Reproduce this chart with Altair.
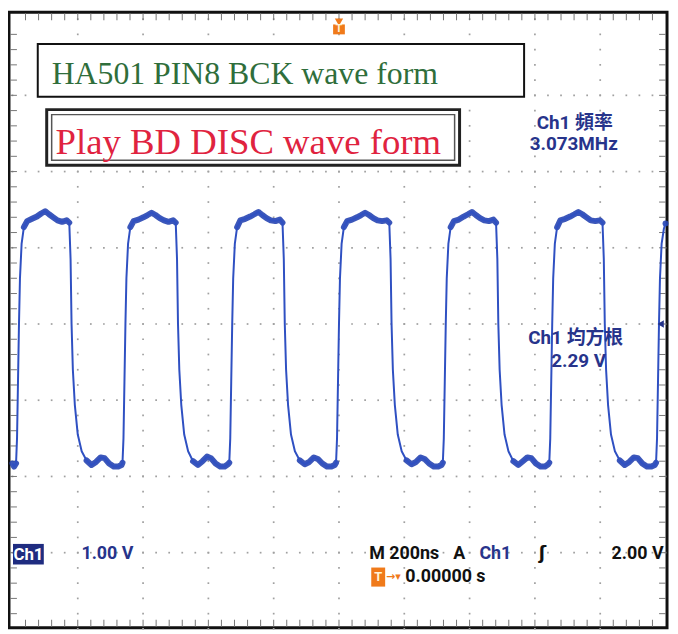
import altair as alt
import pandas as pd

# ---------------- data ----------------
# time in ns (M 200ns/div, trigger at centre = 0), voltage in V (1.00 V/div, ground 2 div below centre)
trace_t = [
    -1000, -995,
    -989, -986, -983, -980, -977, -972, -965, -955,
    -940, -925, -912, -900, -888, -875, -862, -848, -834, -826,
    -822, -819, -815, -809, -800, -788, -773, -758,
    -744, -730, -718, -704, -690, -676, -666,
    -663, -660, -657, -654, -651, -646, -639, -629,
    -614, -599, -586, -574, -562, -549, -536, -522, -508, -500,
    -496, -493, -489, -483, -474, -462, -447, -432,
    -418, -404, -392, -378, -364, -350, -340,
    -336, -333, -330, -327, -324, -319, -312, -302,
    -287, -272, -259, -247, -235, -222, -209, -195, -181, -173,
    -169, -166, -162, -156, -147, -135, -120, -105,
    -91, -77, -65, -51, -37, -23, -13,
    -9, -6, -3, 0, 3, 8, 15, 25,
    40, 55, 68, 80, 92, 105, 118, 132, 146, 154,
    158, 161, 165, 171, 180, 192, 207, 222,
    236, 250, 262, 276, 290, 304, 314,
    318, 321, 324, 327, 330, 335, 342, 352,
    367, 382, 395, 407, 419, 432, 445, 459, 473, 481,
    485, 488, 492, 498, 507, 519, 534, 549,
    563, 577, 589, 603, 617, 631, 641,
    644, 647, 650, 653, 656, 661, 668, 678,
    693, 708, 721, 733, 745, 758, 771, 785, 799, 807,
    811, 814, 818, 824, 833, 845, 860, 875,
    889, 903, 915, 929, 943, 957, 967,
    971, 974, 977, 980, 983, 988, 995, 1000,
]
trace_v = [
    0.17, 0.13,
    0.17, 0.50, 1.25, 2.00, 2.60, 3.05, 3.27, 3.35,
    3.38, 3.41, 3.45, 3.48, 3.44, 3.40, 3.36, 3.34, 3.36, 3.33,
    2.85, 2.00, 1.40, 0.94, 0.55, 0.33, 0.21, 0.15,
    0.19, 0.25, 0.24, 0.17, 0.13, 0.13, 0.15,
    0.18, 0.50, 1.25, 2.00, 2.60, 3.05, 3.27, 3.35,
    3.37, 3.40, 3.43, 3.46, 3.43, 3.39, 3.36, 3.34, 3.36, 3.33,
    2.85, 2.00, 1.40, 0.94, 0.55, 0.33, 0.20, 0.15,
    0.20, 0.26, 0.24, 0.17, 0.13, 0.13, 0.16,
    0.18, 0.50, 1.25, 2.00, 2.60, 3.05, 3.27, 3.36,
    3.38, 3.41, 3.44, 3.47, 3.43, 3.39, 3.36, 3.35, 3.37, 3.33,
    2.85, 2.00, 1.40, 0.94, 0.55, 0.33, 0.21, 0.16,
    0.19, 0.25, 0.23, 0.17, 0.13, 0.13, 0.15,
    0.18, 0.50, 1.25, 2.00, 2.60, 3.05, 3.27, 3.35,
    3.37, 3.40, 3.43, 3.46, 3.43, 3.39, 3.36, 3.35, 3.36, 3.33,
    2.85, 2.00, 1.40, 0.94, 0.55, 0.33, 0.21, 0.16,
    0.19, 0.25, 0.23, 0.17, 0.13, 0.13, 0.15,
    0.18, 0.50, 1.25, 2.00, 2.60, 3.05, 3.27, 3.35,
    3.37, 3.41, 3.44, 3.47, 3.43, 3.39, 3.36, 3.35, 3.37, 3.33,
    2.85, 2.00, 1.40, 0.94, 0.55, 0.33, 0.20, 0.15,
    0.20, 0.25, 0.24, 0.17, 0.13, 0.13, 0.16,
    0.18, 0.50, 1.25, 2.00, 2.60, 3.05, 3.27, 3.36,
    3.38, 3.41, 3.44, 3.47, 3.44, 3.40, 3.36, 3.35, 3.36, 3.33,
    2.85, 2.00, 1.40, 0.94, 0.55, 0.33, 0.21, 0.15,
    0.19, 0.25, 0.24, 0.17, 0.13, 0.13, 0.15,
    0.18, 0.50, 1.25, 2.00, 2.60, 3.05, 3.25, 3.32,
]

# graticule: 10 x 200 ns, 8 x 1 V
major_t = [-800, -600, -400, -200, 0, 200, 400, 600, 800]
major_v = [-1, 0, 1, 2, 3, 4, 5]
minor_t = [-1000 + 40 * i for i in range(51)]
minor_v = [round(-2 + 0.2 * i, 2) for i in range(41)]

title_labels = ["HA501 PIN8 BCK wave form", "Play BD DISC wave form"]
meas_labels = ["Ch1 頻率", "3.073MHz", "Ch1 均方根", "2.29 V"]
status_labels = ["1.00 V", "M 200ns", "A", "Ch1", "ʃ", "2.00 V", "0.00000 s"]

# ---------------- scales ----------------
xs = alt.Scale(domain=[-1010.6, 1004.6], nice=False, zero=False)
ys = alt.Scale(domain=[-1.984, 6.089], nice=False, zero=False)
X = lambda f: alt.X(f, type="quantitative", scale=xs, axis=None)
Y = lambda f: alt.Y(f, type="quantitative", scale=ys, axis=None)
X2 = lambda f: alt.X2(f)
Y2 = lambda f: alt.Y2(f)

GRID = "#a0a0a0"
BLUE_TXT = "#27348b"
TRACE = "#2f50c2"
SANS = "Roboto, Open Sans, Noto Sans CJK TC, sans-serif"

# grid dots
dots = pd.DataFrame(
    [{"t": t, "v": v} for t in major_t for v in minor_v]
    + [{"t": t, "v": v} for v in major_v for t in minor_t]
)
grid = alt.Chart(dots).mark_square(size=3, color=GRID, opacity=1).encode(x=X("t"), y=Y("v"))

# edge rulers
tick_t = pd.DataFrame({"t": minor_t[1:-1]})
tick_v = pd.DataFrame({"v": minor_v[1:-1]})
H, W = 620, 663
rul_top = alt.Chart(tick_t).mark_rule(color="#777", strokeWidth=1).encode(x=X("t"), y=alt.value(1), y2=alt.value(8))
rul_bot = alt.Chart(tick_t).mark_rule(color="#777", strokeWidth=1).encode(x=X("t"), y=alt.value(H - 8), y2=alt.value(H - 1))
rul_left = alt.Chart(tick_v).mark_rule(color="#777", strokeWidth=1).encode(y=Y("v"), x=alt.value(1), x2=alt.value(8))
rul_right = alt.Chart(tick_v).mark_rule(color="#777", strokeWidth=1).encode(y=Y("v"), x=alt.value(W - 8), x2=alt.value(W - 1))

# trace
tr = pd.DataFrame({"t": trace_t, "v": trace_v})
tr["plateau"] = (tr["v"] > 3.25) | (tr["v"] < 0.3)
tr["seg"] = (tr["plateau"] != tr["plateau"].shift()).cumsum()
band = alt.Chart(tr[tr["plateau"]]).mark_line(color="#2745b2", strokeWidth=6, opacity=0.9,
                                              strokeJoin="round", strokeCap="round").encode(
    x=X("t"), y=Y("v"), detail="seg:N")
line = alt.Chart(tr).mark_line(color=TRACE, strokeWidth=2, strokeJoin="round").encode(x=X("t"), y=Y("v"))

# text boxes
box1 = pd.DataFrame({"x1": [-922.5], "x2": [566.9], "y1": [5.672], "y2": [4.982]})
box2o = pd.DataFrame({"x1": [-895.1], "x2": [369.3], "y1": [4.8125], "y2": [4.083]})
box2i = pd.DataFrame({"x1": [-879.9], "x2": [354.1], "y1": [4.747], "y2": [4.148]})
rect = lambda d, sw, col: alt.Chart(d).mark_rect(fill="white", stroke=col, strokeWidth=sw).encode(
    x=X("x1"), x2=X2("x2"), y=Y("y1"), y2=Y2("y2"))
boxes = rect(box1, 2, "#111") + rect(box2o, 3, "#222") + rect(box2i, 1.5, "#555")


def txt(label, t, v, color, size, font=SANS, weight="bold", align="left", baseline="alphabetic"):
    d = pd.DataFrame({"t": [t], "v": [v], "s": [label]})
    return alt.Chart(d).mark_text(color=color, fontSize=size, font=font, fontWeight=weight,
                                  align=align, baseline=baseline).encode(x=X("t"), y=Y("v"), text="s:N")


SERIF = "Liberation Serif, Times New Roman, serif"
ROW1, ROW2 = -1.02, -1.32
texts = [
    txt(title_labels[0], -879.9, 5.151, "#2f6e3b", 32, SERIF, "normal"),
    txt(title_labels[1], -867.8, 4.227, "#e0233f", 37, SERIF, "normal"),
    txt(meas_labels[0], 721.9, 4.64, BLUE_TXT, 19, align="center", baseline="middle"),
    txt(meas_labels[1], 718.8, 4.36, BLUE_TXT, 19, align="center", baseline="middle"),
    txt(meas_labels[2], 725.0, 1.815, BLUE_TXT, 19, align="center", baseline="middle"),
    txt(meas_labels[3], 734.0, 1.52, BLUE_TXT, 19, align="center", baseline="middle"),
    txt(status_labels[0], -788.8, ROW1, BLUE_TXT, 18, baseline="middle"),
    txt(status_labels[1], 92.7, ROW1, "#111", 18, baseline="middle"),
    txt(status_labels[2], 350.0, ROW1, "#111", 18, baseline="middle"),
    txt(status_labels[3], 430.0, ROW1, BLUE_TXT, 18, baseline="middle"),
    txt(status_labels[4], 612.0, ROW1, "#111", 18, font="DejaVu Sans", baseline="middle"),
    txt(status_labels[5], 994.0, ROW1, "#111", 18, align="right", baseline="middle"),
    txt(status_labels[6], 203.0, ROW2, "#111", 18, baseline="middle"),
]

# Ch1 badge
badge = pd.DataFrame({"x1": [-998.4], "x2": [-904.0], "y1": [-0.885], "y2": [-1.155]})
badge_rect = alt.Chart(badge).mark_rect(fill="#1f2c80").encode(x=X("x1"), x2=X2("x2"), y=Y("y1"), y2=Y2("y2"))
badge_txt = txt("Ch1", -951.0, -1.025, "white", 17, align="center", baseline="middle")

# orange trigger markers
ORANGE = "#f07a1a"
trig_top = pd.DataFrame({"t": [0], "v": [5.96]})
trig_top_box = pd.DataFrame({"x1": [-18], "x2": [18], "y1": [5.93], "y2": [5.80]})
tmark = (alt.Chart(trig_top).mark_point(shape="triangle-down", filled=True, color=ORANGE, size=70, opacity=1)
         .encode(x=X("t"), y=Y("v"))
         + alt.Chart(trig_top_box).mark_rect(fill=ORANGE).encode(x=X("x1"), x2=X2("x2"), y=Y("y1"), y2=Y2("y2"))
         + txt("T", 0, 5.865, "#fff3d6", 11, align="center", baseline="middle"))
icon_box = pd.DataFrame({"x1": [98.8], "x2": [141.4], "y1": [-1.195], "y2": [-1.445]})
icon = (alt.Chart(icon_box).mark_rect(fill=ORANGE).encode(x=X("x1"), x2=X2("x2"), y=Y("y1"), y2=Y2("y2"))
        + txt("T", 120, ROW2, "#fff3d6", 13, align="center", baseline="middle")
        + txt("→▾", 144, ROW2, ORANGE, 11, font="DejaVu Sans", baseline="middle"))

# trigger level arrow (2.00 V) on the right
lvl = pd.DataFrame({"t": [985], "v": [2.0]})
lvl_mark = alt.Chart(lvl).mark_point(shape="triangle-left", filled=True, color="#24338a", size=55, opacity=1).encode(
    x=X("t"), y=Y("v"))

chart = alt.layer(
    grid, rul_top, rul_bot, rul_left, rul_right,
    band, line, boxes, *texts, badge_rect, badge_txt, tmark, icon, lvl_mark,
).properties(
    width=W, height=H,
    padding={"left": 1, "top": 2, "right": 3, "bottom": 4},
    autosize=alt.AutoSizeParams(type="none"),
    background="white",
).configure_view(stroke="#111", strokeWidth=3)

chart.save("out.html", embed_options={"renderer": "svg", "actions": False})
